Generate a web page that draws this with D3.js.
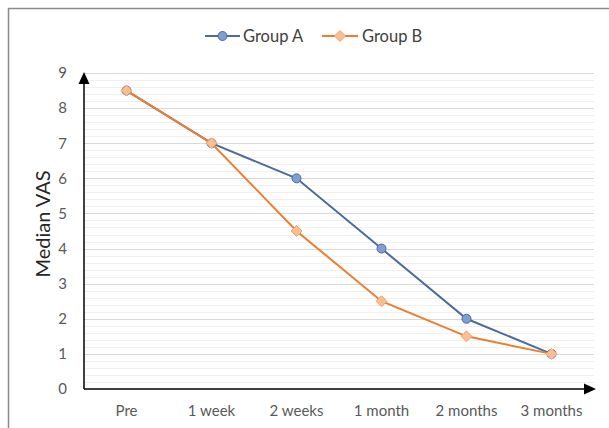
<!DOCTYPE html>
<html>
<head>
<meta charset="utf-8">
<script src="https://cdn.jsdelivr.net/npm/d3@7"></script>
<style>
  html, body { margin: 0; padding: 0; background: #fff; }
  svg { display: block; font-family: Lato, "Open Sans", sans-serif; }
</style>
</head>
<body>
<svg id="chart" width="609" height="428"></svg>
<script>
// Time points and median VAS per group
const categories = ["Pre", "1 week", "2 weeks", "1 month", "2 months", "3 months"];
const groupA = [8.5, 7, 6, 4, 2, 1];
const groupB = [8.5, 7, 4.5, 2.5, 1.5, 1];
const yTicks = [0, 1, 2, 3, 4, 5, 6, 7, 8, 9];
const seriesNames = ["Group A", "Group B"];

(function () {
const svg = d3.select("#chart");

// outer frame
svg.append("rect")
  .attr("x", 8.5).attr("y", 8.5)
  .attr("width", 700).attr("height", 500)
  .attr("fill", "none").attr("stroke", "#8a8a8a").attr("stroke-width", 1.5);

const plotLeft = 84, plotRight = 594, plotTop = 73, plotBottom = 389;

const x = d3.scaleBand().domain(categories).range([plotLeft, plotRight]);
const y = d3.scaleLinear().domain([0, 9]).range([plotBottom, plotTop]);

// minor gridlines every 0.2
const minor = d3.range(1, 45).map(i => i * 0.2).filter(v => Math.abs(v - Math.round(v)) > 1e-6);
svg.append("g").selectAll("line").data(minor).join("line")
  .attr("x1", plotLeft).attr("x2", plotRight)
  .attr("y1", d => Math.round(y(d)) + 0.5).attr("y2", d => Math.round(y(d)) + 0.5)
  .attr("stroke", "#f0f0f0").attr("stroke-width", 1);

// major gridlines
svg.append("g").selectAll("line").data(yTicks.slice(1)).join("line")
  .attr("x1", plotLeft).attr("x2", plotRight)
  .attr("y1", d => Math.round(y(d)) + 0.5).attr("y2", d => Math.round(y(d)) + 0.5)
  .attr("stroke", "#d9d9d9").attr("stroke-width", 1);

const tickFont = "15px";

// y tick labels
const yAxis = d3.axisLeft(y).tickValues(yTicks).tickSize(0).tickPadding(17);
const yg = svg.append("g").attr("transform", `translate(${plotLeft},0)`).call(yAxis);
yg.select(".domain").remove();
yg.selectAll("text").attr("fill", "#595959").style("font-size", tickFont)
  .style("font-family", "Lato, 'Open Sans', sans-serif");

// x tick labels
const xAxis = d3.axisBottom(x).tickSize(0).tickPadding(16);
const xg = svg.append("g").attr("transform", `translate(0,${plotBottom})`).call(xAxis);
xg.select(".domain").remove();
xg.selectAll("text").attr("fill", "#595959").style("font-size", tickFont)
  .style("font-family", "Lato, 'Open Sans', sans-serif");

// axes with arrowheads
svg.append("line").attr("x1", plotLeft).attr("x2", 585)
  .attr("y1", plotBottom).attr("y2", plotBottom)
  .attr("stroke", "#000").attr("stroke-width", 1.5);
svg.append("path").attr("d", `M584,${plotBottom - 5.5} L596,${plotBottom} L584,${plotBottom + 5.5} Z`).attr("fill", "#000");
svg.append("line").attr("x1", plotLeft).attr("x2", plotLeft)
  .attr("y1", plotBottom).attr("y2", 83)
  .attr("stroke", "#000").attr("stroke-width", 1.5);
svg.append("path").attr("d", `M${plotLeft - 5.5},84 L${plotLeft},72 L${plotLeft + 5.5},84 Z`).attr("fill", "#000");

// y title
svg.append("text")
  .attr("transform", `translate(50,224) rotate(-90)`)
  .attr("text-anchor", "middle")
  .attr("fill", "#262626").style("font-size", "20px")
  .text("Median VAS");

const cx = d => x(d) + x.bandwidth() / 2;
const line = d3.line().x((d, i) => cx(categories[i])).y(d => y(d));

const styleA = { line: "#4a6b9c", fill: "#7f9ed3", stroke: "#4a6b9c" };
const styleB = { line: "#ed7d31", fill: "#f8bf92", stroke: "#f4a36a" };

// Group A
svg.append("path").datum(groupA).attr("d", line)
  .attr("fill", "none").attr("stroke", styleA.line).attr("stroke-width", 2);
svg.append("g").selectAll("circle").data(groupA).join("circle")
  .attr("cx", (d, i) => cx(categories[i])).attr("cy", d => y(d)).attr("r", 4.5)
  .attr("fill", styleA.fill).attr("stroke", styleA.stroke).attr("stroke-width", 1);

// Group B
const diamond = (px, py, s) => `M${px},${py - s} L${px + s},${py} L${px},${py + s} L${px - s},${py} Z`;
svg.append("path").datum(groupB).attr("d", line)
  .attr("fill", "none").attr("stroke", styleB.line).attr("stroke-width", 2);
svg.append("g").selectAll("path").data(groupB).join("path")
  .attr("d", (d, i) => diamond(cx(categories[i]), y(d), 5.5))
  .attr("fill", styleB.fill).attr("stroke", styleB.stroke).attr("stroke-width", 1);

// legend
const legend = svg.append("g");
const ly = 36;
legend.append("line").attr("x1", 205).attr("x2", 240).attr("y1", ly).attr("y2", ly)
  .attr("stroke", styleA.line).attr("stroke-width", 2);
legend.append("circle").attr("cx", 222.5).attr("cy", ly).attr("r", 4.5)
  .attr("fill", styleA.fill).attr("stroke", styleA.stroke);
legend.append("text").attr("x", 243).attr("y", ly + 6).attr("fill", "#404040")
  .style("font-size", "16.5px").text(seriesNames[0]);
legend.append("line").attr("x1", 322).attr("x2", 358).attr("y1", ly).attr("y2", ly)
  .attr("stroke", styleB.line).attr("stroke-width", 2);
legend.append("path").attr("d", diamond(340, ly, 5.5))
  .attr("fill", styleB.fill).attr("stroke", styleB.stroke);
legend.append("text").attr("x", 362).attr("y", ly + 6).attr("fill", "#404040")
  .style("font-size", "16.5px").text(seriesNames[1]);
})();
</script>
</body>
</html>
